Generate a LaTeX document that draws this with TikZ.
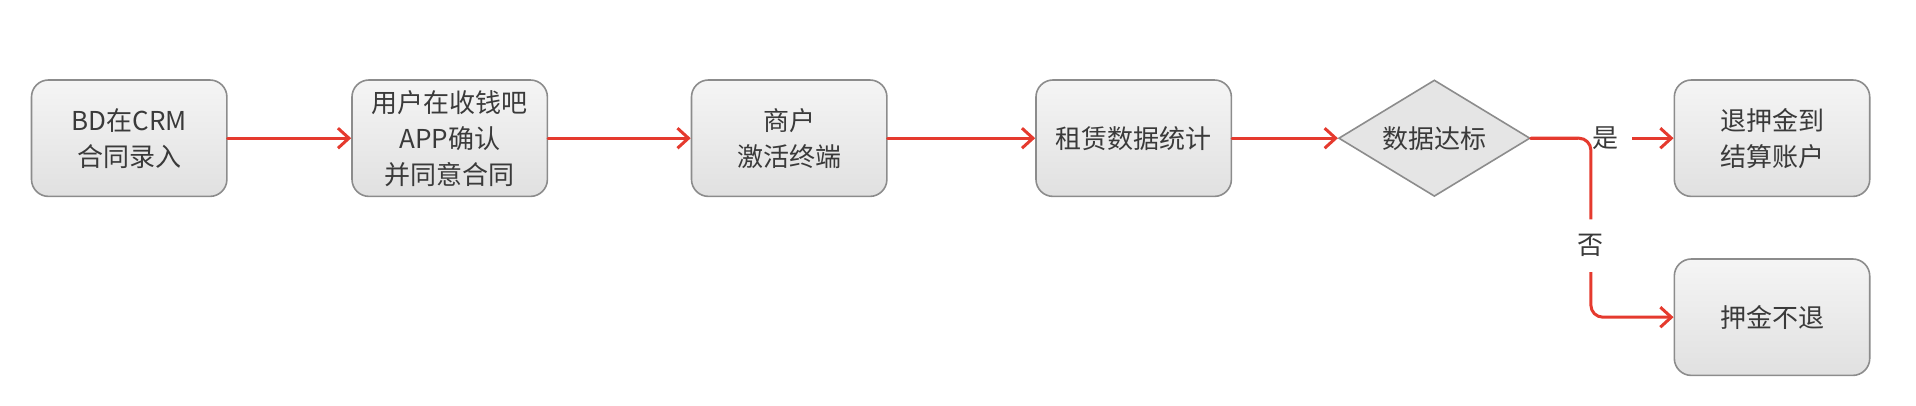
\documentclass[tikz,border=0pt]{standalone}
\usepackage{fontspec}
\setmainfont{Noto Sans CJK SC}
\usetikzlibrary{matrix}
\usetikzlibrary{shapes.geometric}
\usetikzlibrary{arrows.meta}
\definecolor{flowred}{HTML}{E53A2E}
\definecolor{boxline}{HTML}{8C8C8C}
\definecolor{boxtext}{HTML}{3A3A3A}
\tikzset{
    box/.style={rectangle, rounded corners=17pt, draw=boxline, line width=1.6pt,
        top color=white!96!black, bottom color=white!88!black,
        minimum width=195.4pt, minimum height=116.4pt, inner sep=0pt,
        align=center, text=boxtext, font=\fontsize{26}{36}\selectfont},
    diam/.style={diamond, aspect=1.6, draw=boxline, line width=1.6pt,
        fill=white!90!black, minimum width=191.4pt, minimum height=116.4pt,
        inner sep=2pt, text=boxtext, font=\fontsize{26}{36}\selectfont},
    flow/.style={draw=flowred, line width=3pt, line cap=round, line join=round,
        -{Straight Barb[length=11pt,width=20pt]}},
    lbl/.style={fill=white, text=boxtext, inner xsep=14pt, inner ysep=15pt,
        font=\fontsize{26}{36}\selectfont}
}
\begin{document}
\begin{tikzpicture}[x=1pt,y=-1pt]
        \useasboundingbox (0,0) rectangle (1916,406);
        \matrix (m) [column sep=0pt, row sep=61pt, inner sep=0pt,
            nodes={anchor=center}, anchor=north west] at (30.5,79)
        {
            \node[box] (crm) {BD在CRM\\合同录入}; &[123.5pt]
            \node[box] (app) {用户在收钱吧\\APP确认\\并同意合同}; &[142.5pt]
            \node[box] (act) {商户\\激活终端}; &[147.5pt]
            \node[box] (stat) {租赁数据统计}; &[106pt]
            \node[diam] (chk) {数据达标}; &[143pt]
            \node[box] (ret) {退押金到\\结算账户}; \\
            & & & & & \node[box] (keep) {押金不退}; \\
        };
        \draw[flow] (crm) -- (app);
        \draw[flow] (app) -- (act);
        \draw[flow] (act) -- (stat);
        \draw[flow] (stat) -- (chk);
        \draw[flow] (chk) -- node[lbl, pos=0.52] {是} (ret);
        \draw[flow, rounded corners=12pt] (chk.east) -- ++(60,0)
              |- node[lbl, pos=0.3] {否} (keep.west);
    \end{tikzpicture}
\end{document}
